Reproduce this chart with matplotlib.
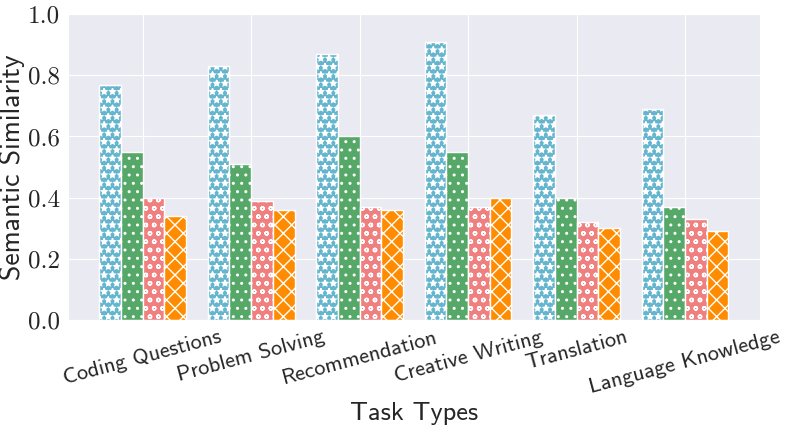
import matplotlib
matplotlib.use("Agg")
import matplotlib.pyplot as plt
import numpy as np
import seaborn as sns

# data
tasks = ["Coding Questions", "Problem Solving", "Recommendation",
         "Creative Writing", "Translation", "Language Knowledge"]
series_a = [0.77, 0.83, 0.87, 0.91, 0.67, 0.69]
series_b = [0.55, 0.51, 0.60, 0.55, 0.40, 0.37]
series_c = [0.40, 0.39, 0.37, 0.37, 0.32, 0.33]
series_d = [0.34, 0.36, 0.36, 0.40, 0.30, 0.29]
y_ticks = [0.0, 0.2, 0.4, 0.6, 0.8, 1.0]

colors = ["#64b5cd", "#55a868", "#f08080", "#ff8c00"]
hatches = ["**", "..", "oo", "xx"]

sns.set_style("darkgrid")
plt.rcParams["font.family"] = ["cmss10", "DejaVu Sans"]
plt.rcParams["axes.unicode_minus"] = False

fig, ax = plt.subplots(figsize=(7.89, 4.3), dpi=100)
fig.subplots_adjust(left=0.086, right=0.963, top=0.967, bottom=0.256)

x = np.arange(len(tasks))
width = 0.2
all_series = [series_a, series_b, series_c, series_d]
for i, vals in enumerate(all_series):
    ax.bar(x + (i - 1.5) * width, vals, width, color=colors[i],
           hatch=hatches[i], edgecolor="white", linewidth=1, zorder=2)

ax.set_ylim(0, 1.0)
ax.set_yticks(y_ticks)
ax.set_yticklabels(["%.1f" % t for t in y_ticks], fontfamily="cmr10", fontsize=18)
ax.set_xticks(x)
ax.set_xticklabels(tasks, rotation=15, ha="center", fontsize=16)
ax.tick_params(axis="both", pad=2)
ax.set_xlabel("Task Types", fontsize=19)
ax.set_ylabel("Semantic Similarity", fontsize=20, labelpad=2)

fig.savefig("out.png", dpi=100)
